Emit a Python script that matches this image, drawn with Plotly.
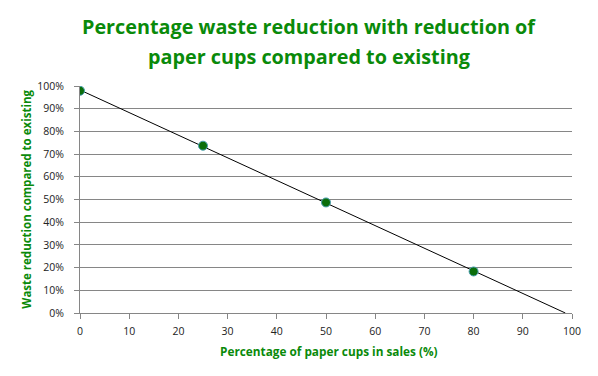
import numpy as np
import plotly.graph_objects as go

paper_cup_share = [0, 25, 50, 80]
waste_reduction = [0.979, 0.737, 0.487, 0.183]
x_ticks = list(range(0, 101, 10))
y_ticks = [i / 10 for i in range(0, 11)]
title_lines = ["Percentage waste reduction with reduction of", "paper cups compared to existing"]
x_title = "Percentage of paper cups in sales (%)"
y_title = "Waste reduction compared to existing"

# linear trend line through the data, extended to where it crosses zero
slope, intercept = np.polyfit(paper_cup_share, waste_reduction, 1)
x_end = -intercept / slope
trend_x = [0, x_end]
trend_y = [intercept, 0]

green = "#0A8A0A"
PW, PH = 492, 227
fig = go.Figure()
fig.add_trace(go.Scatter(x=trend_x, y=trend_y, mode="lines",
                         line=dict(color="black", width=1), showlegend=False, hoverinfo="skip"))
fig.add_trace(go.Scatter(x=paper_cup_share, y=waste_reduction, mode="markers",
                         marker=dict(color="#0B6E0B", size=9, line=dict(color="#4A9FB0", width=1)),
                         showlegend=False))

annotations = []
for i, line in enumerate(title_lines):
    annotations.append(dict(text=line, xref="paper", yref="paper", x=(308.5 - 80) / PW, y=1.0 + (59 - 29 * i) / PH,
                            xanchor="center", yanchor="middle", showarrow=False,
                            font=dict(family="Open Sans", size=19.8, color=green, weight="bold")))
annotations.append(dict(text=x_title, xref="paper", yref="paper", x=(329 - 80) / PW, y=-37.5 / PH,
                        xanchor="center", yanchor="middle", showarrow=False,
                        font=dict(family="Open Sans", size=11.8, color=green, weight="bold")))
annotations.append(dict(text=y_title, xref="paper", yref="paper", x=-(80 - 27) / PW, y=(313.3 - 200) / PH,
                        xanchor="center", yanchor="middle", showarrow=False, textangle=-90,
                        font=dict(family="Open Sans", size=11.5, color=green, weight="bold")))

# page body has an 8px margin, so the figure is sized/offset to compensate
fig.update_layout(
    width=590, height=368,
    paper_bgcolor="white", plot_bgcolor="white",
    margin=dict(l=72, r=26, t=78, b=63, autoexpand=False),
    font=dict(family="Open Sans", size=10.5, color="#222222"),
    annotations=annotations,
    xaxis=dict(range=[0, 100], tickvals=x_ticks, showgrid=False, zeroline=False,
               showline=True, linecolor="#868686", linewidth=1, automargin=False,
               ticks="outside", ticklen=5, tickcolor="#868686", ticklabelstandoff=3),
    yaxis=dict(range=[0, 1], tickvals=y_ticks, tickformat=".0%", showgrid=True,
               gridcolor="#868686", gridwidth=1, zeroline=False, automargin=False,
               showline=True, linecolor="#868686", linewidth=1,
               ticks="outside", ticklen=5, tickcolor="#868686", ticklabelstandoff=8),
)
fig.write_html("out.html")
